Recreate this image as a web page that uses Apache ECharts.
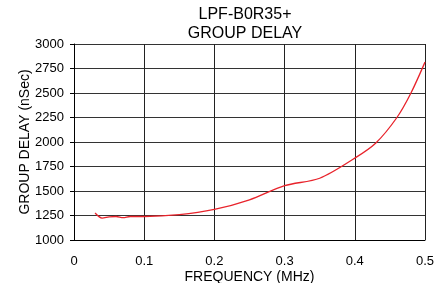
<!DOCTYPE html>
<html>
<head>
<meta charset="utf-8">
<script src="https://cdn.jsdelivr.net/npm/echarts@6/dist/echarts.min.js"></script>
<style>
  html, body { margin: 0; padding: 0; background: #fff; }
  #chart { width: 448px; height: 283px; }
</style>
</head>
<body>
<div id="chart"></div>
<script>
// frequency in MHz
var freq = [0.03, 0.04, 0.05, 0.06, 0.07, 0.08, 0.1, 0.15, 0.2, 0.25, 0.3, 0.35, 0.4, 0.43, 0.46, 0.48, 0.5];
// group delay in nSec
var delay = [1275, 1224, 1235, 1240, 1228, 1240, 1240, 1258, 1312, 1410, 1555, 1630, 1835, 1990, 2250, 2500, 2815];

var chart = echarts.init(document.getElementById("chart"));
var option = {
  animation: false,
  title: {
    text: "LPF-B0R35+\nGROUP DELAY",
    left: 240,
    top: 0,
    textAlign: "center",
    textStyle: {
      fontFamily: "Liberation Sans",
      fontSize: 16,
      fontWeight: "normal",
      color: "#000",
      lineHeight: 19
    }
  },
  grid: { left: 74, right: 23, top: 44, bottom: 43, outerBoundsMode: "none" },
  xAxis: {
    type: "value",
    min: 0,
    max: 0.5,
    interval: 0.1,
    name: "FREQUENCY (MHz)",
    nameLocation: "middle",
    nameGap: 30,
    nameMoveOverlap: false,
    nameTextStyle: { fontFamily: "Liberation Sans", fontSize: 14, color: "#000" },
    axisLine: { lineStyle: { color: "#000", width: 1 } },
    axisTick: { show: false },
    axisLabel: { fontFamily: "Liberation Sans", fontSize: 13, color: "#000", margin: 15 },
    splitLine: { lineStyle: { color: "#222", width: 1 } }
  },
  yAxis: {
    type: "value",
    min: 1000,
    max: 3000,
    interval: 250,
    name: "GROUP DELAY (nSec)",
    nameLocation: "middle",
    nameGap: 42,
    nameMoveOverlap: false,
    nameTextStyle: { fontFamily: "Liberation Sans", fontSize: 14, color: "#000" },
    axisLine: { show: true, lineStyle: { color: "#000", width: 1 } },
    axisTick: { show: true, length: 4, lineStyle: { color: "#000" } },
    axisLabel: {
      fontFamily: "Liberation Sans",
      fontSize: 13,
      color: "#000",
      margin: 10,
      formatter: function (v) { return String(v); }
    },
    splitLine: { lineStyle: { color: "#333", width: 1 } }
  },
  series: [
    {
      type: "line",
      data: freq.map(function (f, i) { return [f, delay[i]]; }),
      smooth: 0.3,
      showSymbol: false,
      lineStyle: { color: "#e8232b", width: 1.3 }
    }
  ]
};
chart.setOption(option);
</script>
</body>
</html>
